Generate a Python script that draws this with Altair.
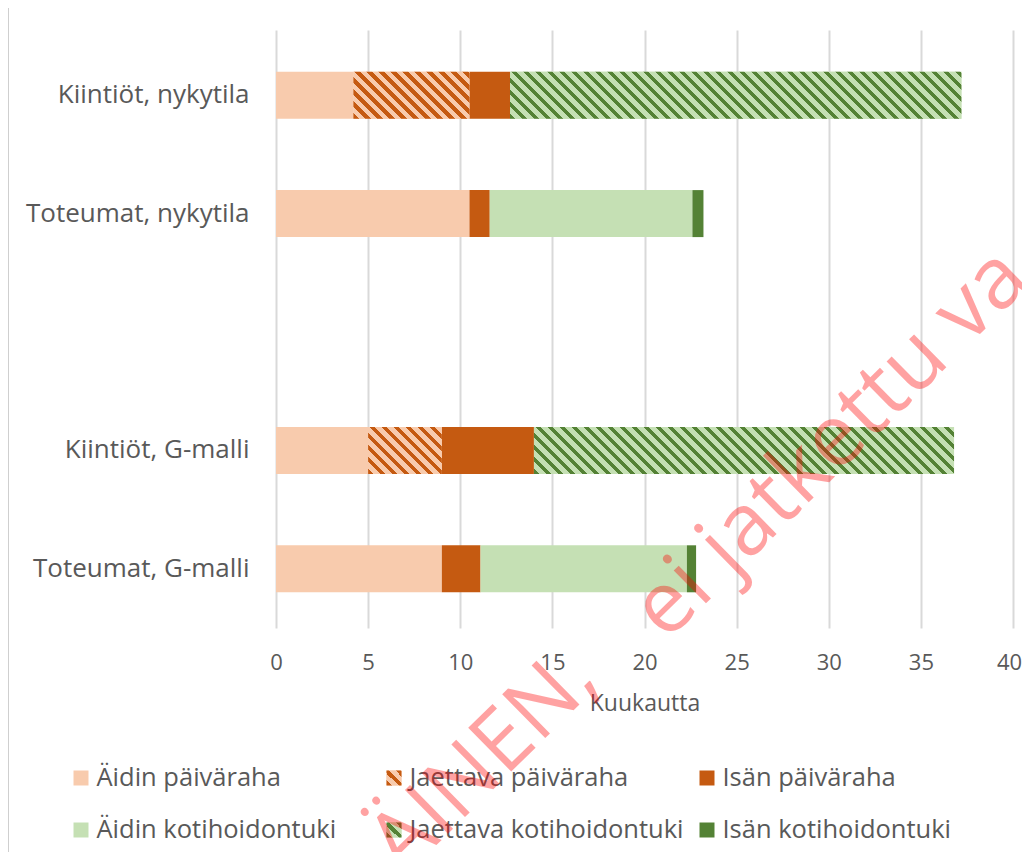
import altair as alt
import pandas as pd

# ---------------- data ----------------
categories = ["Kiintiöt, nykytila", "Toteumat, nykytila", "Kiintiöt, G-malli", "Toteumat, G-malli"]
axis_domain = ["Kiintiöt, nykytila", "Toteumat, nykytila", " ", "Kiintiöt, G-malli", "Toteumat, G-malli"]
series = ["Äidin päiväraha", "Jaettava päiväraha", "Isän päiväraha",
          "Äidin kotihoidontuki", "Jaettava kotihoidontuki", "Isän kotihoidontuki"]
aidin_pv = [4.2, 10.5, 5.0, 9.0]
jaettava_pv = [6.3, 0.0, 4.0, 0.0]
isan_pv = [2.2, 1.1, 5.0, 2.1]
aidin_kt = [0.0, 11.0, 0.0, 11.2]
jaettava_kt = [24.5, 0.0, 22.8, 0.0]
isan_kt = [0.0, 0.6, 0.0, 0.5]
x_ticks = [0, 5, 10, 15, 20, 25, 30, 35, 40]
x_title = "Kuukautta"
watermark_parts = ["ÄINEN,", "ei jatkettu va"]

# ---------------- style ----------------
light_colors = ["#F8CBAD", "#F8CBAD", "#C55A11", "#C5E0B4", "#C5E0B4", "#548235"]
stripe_colors = [None, "#C55A11", None, None, "#548235", None]
TEXT = "#595959"
GRID = "#D9D9D9"
FONT = "Open Sans"
PLOT_W = 737
PLOT_H = 598
PAD_L, PAD_T = 268, 22
PAD_R = 1014 - PAD_L - PLOT_W
PAD_B = 844 - PAD_T - PLOT_H
BAR_H = 47
FS_Y = 26
FS_TICK = 22
FS_LEG = 25.5

values = [aidin_pv, jaettava_pv, isan_pv, aidin_kt, jaettava_kt, isan_kt]
rows = []
for ci, cat in enumerate(categories):
    for si, s in enumerate(series):
        v = values[si][ci]
        if v > 0:
            rows.append({"cat": cat, "series": s, "order": si, "value": v, "fill": light_colors[si]})
df = pd.DataFrame(rows)


def hatch(W, H, dark, light, period=12.0, frac=0.45):
    r = H / W
    a = (1 + r) / (1 + r * r)
    N = (W + H) / period
    stops = []
    k = 0
    while k / N < 1:
        s = k / N
        m = min((k + frac) / N, 1.0)
        e = min((k + 1) / N, 1.0)
        stops += [(s, dark), (m, dark), (m, light), (e, light)]
        k += 1
    return alt.Gradient(gradient="linear", x1=0, y1=1, x2=round(a, 5), y2=round(1 - a * r, 5),
                        stops=[alt.GradientStop(offset=round(o, 5), color=c) for o, c in stops])


x_scale = alt.Scale(domain=[0, 40], nice=False, zero=True)
y_scale = alt.Scale(domain=axis_domain, paddingInner=0, paddingOuter=0.0253, align=1)
x_axis = alt.Axis(values=x_ticks, grid=True, gridColor=GRID, gridWidth=2, domain=False, ticks=False,
                  labelFont=FONT, labelFontSize=FS_TICK, labelColor=TEXT, labelPadding=24,
                  labelFlush=False,
                  labelOffset={"condition": {"test": "datum.value === 40", "value": -4}, "value": 0},
                  title=x_title, titleFont=FONT, titleFontSize=23, titleFontWeight="normal",
                  titleColor=TEXT, titlePadding=19)
y_axis = alt.Axis(grid=False, domain=False, ticks=False, labelFont=FONT, labelFontSize=FS_Y,
                  labelColor=TEXT, labelPadding=27, labelLimit=500, title=None)

x_enc = alt.X("x0:Q", scale=x_scale, axis=x_axis)
y_enc = alt.Y("cat:N", scale=y_scale, axis=y_axis, sort=axis_domain)

base = alt.Chart(df).transform_stack(
    stack="value", groupby=["cat"], as_=["x0", "x1"],
    sort=[alt.SortField("order", order="ascending")])

bars = base.mark_bar(size=BAR_H).encode(
    x=x_enc, x2="x1:Q", y=y_enc, color=alt.Color("fill:N", scale=None))

layers = [bars]
px_per_unit = PLOT_W / 40
for si, s in enumerate(series):
    if stripe_colors[si] is None:
        continue
    for ci, cat in enumerate(categories):
        v = values[si][ci]
        if v <= 0:
            continue
        g = hatch(v * px_per_unit, BAR_H, stripe_colors[si], light_colors[si])
        layers.append(
            base.transform_filter((alt.datum.cat == cat) & (alt.datum.series == s))
            .mark_bar(size=BAR_H, color=g)
            .encode(x=x_enc, x2="x1:Q", y=y_enc))

# left border line of the chart area
border = alt.Chart(pd.DataFrame({"k": [0]})).mark_rule(color="#CFCFCF", strokeWidth=1).encode(
    x=alt.value(-267.5), y=alt.value(-22), y2=alt.value(822))
layers.insert(0, border)

# custom legend (2 rows x 3 columns)
leg = pd.DataFrame({"series": series, "idx": list(range(len(series))), "fill": light_colors})
leg_base = alt.Chart(leg).transform_calculate(
    lx="-195 + (datum.idx % 3) * 313",
    ly="748 + floor(datum.idx / 3) * 52")
SYM = 15 * 15
leg_sym = leg_base.mark_square(size=SYM, opacity=1).encode(
    x=alt.X("lx:Q", scale=None), y=alt.Y("ly:Q", scale=None), color=alt.Color("fill:N", scale=None))
layers.append(leg_sym)
for si, s in enumerate(series):
    if stripe_colors[si] is None:
        continue
    g = hatch(15, 15, stripe_colors[si], light_colors[si], period=12.0, frac=0.45)
    layers.append(leg_base.transform_filter(alt.datum.series == s).mark_square(size=SYM, opacity=1, color=g)
                  .encode(x=alt.X("lx:Q", scale=None), y=alt.Y("ly:Q", scale=None)))
leg_txt = leg_base.mark_text(align="left", baseline="middle", font=FONT, fontSize=FS_LEG, color=TEXT).encode(
    x=alt.X("lx2:Q", scale=None), y=alt.Y("ly:Q", scale=None), text="series:N"
).transform_calculate(lx2="datum.lx + 15.5")
layers.append(leg_txt)

# watermark (two pieces along the same diagonal), cut by the picture edges
wm_pos = [(208, 732), (555, 414)]
for txt, (wx, wy) in zip(watermark_parts, wm_pos):
    layers.append(alt.Chart(pd.DataFrame({"t": [txt]})).mark_text(
        font=FONT, fontSize=86, color="#FF0000", opacity=0.36, angle=315.5,
        align="center", baseline="middle").encode(
        x=alt.value(wx), y=alt.value(wy), text="t:N"))

chart = alt.layer(*layers).properties(
    width=PLOT_W, height=PLOT_H,
    padding={"left": PAD_L, "top": PAD_T, "right": PAD_R, "bottom": PAD_B},
    autosize=alt.AutoSizeParams(type="none")
).configure_view(stroke=None)

chart.save("out.html", embed_options={"renderer": "svg", "actions": False})
